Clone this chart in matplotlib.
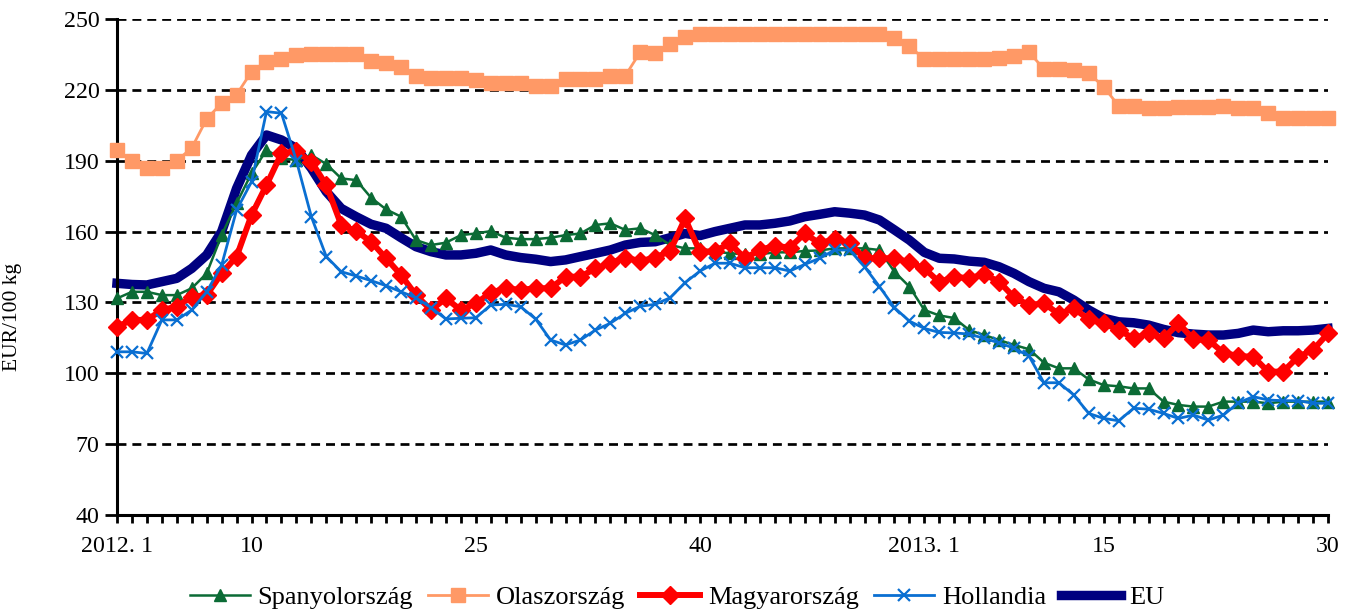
import numpy as np
import matplotlib
matplotlib.use('Agg')
import matplotlib.pyplot as plt

plt.rcParams['font.family'] = ['Liberation Serif', 'DejaVu Serif']

# weeks: 2012 w1..w52, 2013 w1..w30
weeks = list(range(1, 53)) + list(range(1, 31))
tick_labels = {0: '2012. 1', 9: '10', 24: '25', 39: '40', 66: '15', 81: '30'}
year_label = (52, '2013. 1')

spain = [131.7, 134.5, 134.5, 133.1, 133.1, 136.0, 142.3, 158.5, 172.0, 184.7,
         194.5, 191.0, 190.3, 192.4, 188.6, 182.5, 181.8, 174.3, 169.4, 166.3,
         156.4, 154.3, 155.3, 158.5, 159.2, 160.2, 157.4, 156.8, 156.8, 157.4,
         158.5, 159.2, 162.8, 163.5, 160.7, 161.4, 158.5, 154.3, 152.9, 152.9,
         151.5, 150.8, 150.4, 150.4, 151.2, 151.2, 151.8, 152.0, 152.9, 152.9,
         152.9, 152.2, 143.0, 136.7, 126.8, 124.5, 123.4, 118.3, 116.2, 114.1,
         112.0, 110.2, 104.5, 102.1, 102.1, 97.4, 95.0, 94.5, 93.6, 93.6,
         88.0, 86.6, 85.9, 85.9, 88.0, 88.0, 88.0, 87.3, 88.0, 88.0,
         88.0, 88.0]

italy = [194.7, 190.0, 187.0, 187.0, 190.0, 195.4, 207.7, 214.4, 218.0, 227.7,
         231.9, 233.0, 234.7, 235.0, 235.0, 235.0, 235.0, 232.2, 231.5, 229.8,
         226.0, 225.0, 225.0, 225.0, 224.2, 222.8, 222.8, 222.8, 221.6, 221.6,
         224.6, 224.6, 224.6, 226.0, 226.0, 236.0, 235.7, 239.3, 242.5, 243.5,
         243.5, 243.5, 243.5, 243.5, 243.5, 243.5, 243.5, 243.5, 243.5, 243.5,
         243.5, 243.5, 242.0, 238.6, 232.9, 232.9, 232.9, 232.9, 232.9, 233.5,
         234.5, 236.0, 228.8, 228.8, 228.4, 227.0, 221.3, 213.2, 213.2, 212.2,
         212.2, 212.6, 212.6, 212.9, 213.2, 212.2, 212.2, 210.3, 208.2, 208.2,
         208.2, 208.2]

hungary = [119.7, 122.6, 122.6, 126.8, 128.2, 132.4, 133.1, 142.3, 149.4, 167.0,
           179.7, 193.1, 194.0, 189.6, 179.7, 162.8, 160.2, 155.7, 148.7, 141.6,
           133.1, 126.8, 131.7, 126.8, 129.6, 134.1, 136.0, 135.3, 136.0, 136.0,
           140.9, 140.9, 144.4, 146.6, 149.0, 147.5, 149.0, 151.8, 165.6, 151.2,
           151.8, 155.0, 148.7, 152.2, 154.0, 153.2, 159.2, 155.0, 156.8, 155.0,
           148.7, 148.7, 148.7, 147.0, 144.4, 138.6, 140.9, 140.2, 141.9, 138.8,
           132.2, 128.9, 129.6, 125.1, 127.5, 122.8, 121.2, 118.3, 114.8, 116.9,
           114.8, 121.2, 114.4, 114.1, 108.7, 107.3, 107.0, 100.7, 100.7, 107.0,
           109.9, 116.9]

netherlands = [109.1, 109.1, 108.4, 122.6, 122.6, 126.8, 134.5, 145.8, 169.1, 181.1,
               210.8, 210.1, 190.0, 166.3, 149.4, 143.0, 141.2, 139.2, 137.1, 134.5,
               132.0, 127.8, 123.0, 123.3, 123.5, 128.9, 129.2, 128.2, 123.0, 114.1,
               112.0, 114.1, 118.3, 121.2, 125.4, 128.4, 129.2, 132.0, 138.4, 143.3,
               146.6, 146.6, 144.7, 144.7, 144.7, 143.3, 146.1, 148.7, 152.2, 152.2,
               145.1, 136.7, 127.8, 122.1, 119.0, 117.3, 117.1, 116.6, 114.8, 112.9,
               110.6, 107.3, 96.0, 96.0, 90.8, 83.0, 80.9, 79.9, 85.2, 84.8,
               83.0, 80.9, 82.3, 80.2, 82.3, 87.5, 90.1, 88.7, 88.4, 88.4,
               87.3, 87.3]

eu = [138.1, 137.6, 137.4, 138.8, 140.2, 144.4, 150.1, 160.0, 178.3, 192.4,
      200.9, 198.8, 195.2, 186.8, 176.9, 169.8, 166.3, 163.1, 161.4, 157.4,
      153.6, 151.5, 150.1, 150.1, 150.8, 152.2, 150.1, 149.0, 148.3, 147.3,
      148.0, 149.4, 150.8, 152.2, 154.3, 155.4, 155.7, 157.4, 159.2, 158.3,
      160.0, 161.4, 162.8, 162.8, 163.5, 164.5, 166.3, 167.3, 168.4, 167.8,
      167.0, 164.9, 160.7, 156.4, 151.2, 148.7, 148.4, 147.5, 147.0, 145.1,
      142.3, 138.8, 136.0, 134.5, 131.0, 126.8, 123.3, 121.8, 121.4, 120.4,
      118.6, 117.2, 116.6, 116.2, 116.2, 116.9, 118.3, 117.6, 118.0, 118.0,
      118.3, 119.0]

x = np.arange(len(weeks))

fig = plt.figure(figsize=(13.54, 6.11), dpi=100)
ax = fig.add_axes([0.0864, 0.1571, 0.8944, 0.8118])

ax.plot(x, eu, color='#000080', lw=6.8, label='EU', zorder=2, clip_on=False,
        solid_joinstyle='round')
ax.plot(x, spain, color='#0B6B35', lw=1.8, marker='^', ms=9, label='Spanyolország',
        zorder=3, clip_on=False)
ax.plot(x, italy, color='#FF9966', lw=2, marker='s', ms=9.5, label='Olaszország',
        zorder=3, clip_on=False)
ax.plot(x, hungary, color='#FF0000', lw=4.3, marker='D', ms=9, label='Magyarország',
        zorder=4, clip_on=False)
ax.plot(x, netherlands, color='#0A6FD2', lw=2, marker='x', ms=9, mew=1.6,
        label='Hollandia', zorder=5, clip_on=False)

ax.set_xlim(0, len(weeks) - 1)
ax.set_ylim(40, 250)
ax.set_yticks(range(40, 251, 30))
ax.set_xticks(x)
ax.set_xticklabels([tick_labels.get(i, '') for i in x])

# the 2013 label sits a bit right of its tick in the original
ax.annotate(year_label[1], xy=(year_label[0], 0), xycoords=('data', 'axes fraction'),
            xytext=(21, -15), textcoords='offset points', ha='center', va='top',
            fontsize=17.2)

ax.yaxis.grid(True, color='black', lw=1.95, dashes=(3.3, 2.2))
ax.set_axisbelow(True)
for side in ['top', 'right']:
    ax.spines[side].set_visible(False)
for side in ['left', 'bottom']:
    ax.spines[side].set_linewidth(2.2)
ax.tick_params(axis='y', direction='out', length=8.6, width=2, labelsize=17.2, pad=4)
ax.tick_params(axis='x', direction='out', length=6, width=2, labelsize=17.2, pad=9)
ax.set_ylabel('EUR/100 kg', fontsize=15.5)
ax.yaxis.set_label_coords(-0.0785, 0.40)

handles, labels = ax.get_legend_handles_labels()
order = [1, 2, 3, 4, 0]
fig.legend([handles[i] for i in order], [labels[i] for i in order],
           loc='center', bbox_to_anchor=(0.5, 0.022), ncol=5, frameon=False,
           fontsize=19, handlelength=2.27, handletextpad=0.3, columnspacing=0.57,
           borderaxespad=0)

fig.savefig('out.png', dpi=100)
